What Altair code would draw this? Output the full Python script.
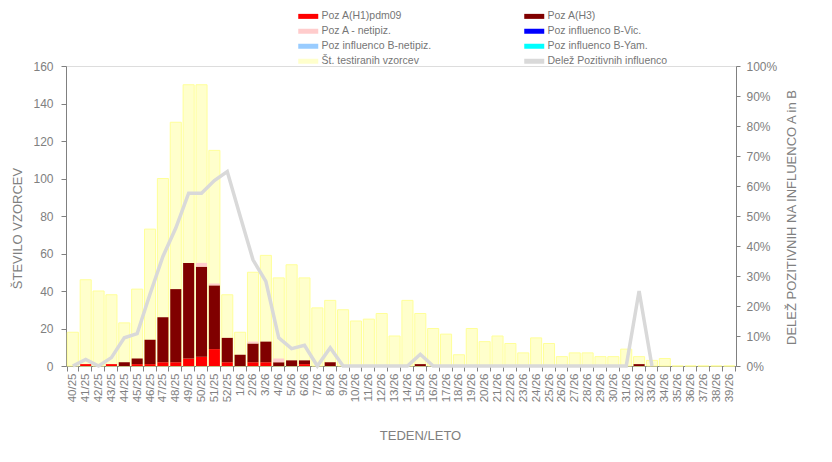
import altair as alt
import pandas as pd

weeks = ["40/25", "41/25", "42/25", "43/25", "44/25", "45/25", "46/25", "47/25", "48/25",
         "49/25", "50/25", "51/25", "52/25", "1/26", "2/26", "3/26", "4/26", "5/26", "6/26",
         "7/26", "8/26", "9/26", "10/26", "11/26", "12/26", "13/26", "14/26", "15/26", "16/26",
         "17/26", "18/26", "19/26", "20/26", "21/26", "22/26", "23/26", "24/26", "25/26",
         "26/26", "27/26", "28/26", "29/26", "30/26", "31/26", "32/26", "33/26", "34/26",
         "35/26", "36/26", "37/26", "38/26", "39/26"]

tested = [18, 46, 40, 38, 23, 41, 73, 100, 130, 150, 150, 115, 38, 18, 50, 59, 47, 54, 47,
          31, 35, 30, 24, 25, 28, 16, 35, 28, 20, 17, 6, 20, 13, 16, 12, 7, 15, 12,
          5, 7, 7, 5, 5, 9, 5, 3, 4, 0, 0, 0, 0, 0]

pos_h1 = [0, 1, 0, 1, 0, 1, 1, 2, 2, 4, 5, 9, 2, 0, 2, 2, 0, 0, 1,
          0, 0, 0, 0, 0, 0, 0, 0, 0, 0, 0, 0, 0, 0, 0, 0, 0, 0, 0,
          0, 0, 0, 0, 0, 0, 0, 0, 0, 0, 0, 0, 0, 0]

pos_h3 = [0, 0, 0, 0, 2, 3, 13, 24, 39, 51, 48, 34, 13, 6, 10, 11, 2, 3, 2,
          0, 2, 0, 0, 0, 0, 0, 0, 1, 0, 0, 0, 0, 0, 0, 0, 0, 0, 0,
          0, 0, 0, 0, 0, 0, 1, 0, 0, 0, 0, 0, 0, 0]

pos_a_netipiz = [0, 0, 0, 0, 0, 0, 0, 0, 0, 0, 2, 1, 0, 0, 1, 0, 2, 0, 0,
                 0, 0, 0, 0, 0, 0, 0, 0, 0, 0, 0, 0, 0, 0, 0, 0, 0, 0, 0,
                 0, 0, 0, 0, 0, 0, 0, 0, 0, 0, 0, 0, 0, 0]

pos_b_vic = [0, 0, 0, 0, 0, 0, 0, 0, 0, 0, 0, 0, 0, 0, 0, 0, 0, 0, 0,
             0, 0, 0, 0, 0, 0, 0, 0, 0, 0, 0, 0, 0, 0, 0, 0, 0, 0, 0,
             0, 0, 0, 0, 0, 0, 0, 0, 0, 0, 0, 0, 0, 0]

pos_b_netipiz = [0, 0, 0, 0, 0, 0, 0, 0, 0, 0, 0, 0, 0, 0, 0, 0, 0, 0, 0,
                 0, 0, 0, 0, 0, 0, 0, 0, 0, 0, 0, 0, 0, 0, 0, 0, 0, 0, 0,
                 0, 0, 0, 0, 0, 0, 0, 0, 0, 0, 0, 0, 0, 0]

pos_b_yam = [0, 0, 0, 0, 0, 0, 0, 0, 0, 0, 0, 0, 0, 0, 0, 0, 0, 0, 0,
             0, 0, 0, 0, 0, 0, 0, 0, 0, 0, 0, 0, 0, 0, 0, 0, 0, 0, 0,
             0, 0, 0, 0, 0, 0, 0, 0, 0, 0, 0, 0, 0, 0]

# share of positives in %, weeks 40/25 .. 33/26 (no value afterwards)
share_pct = [0, 2.2, 0, 2.8, 9.4, 10.8, 24, 36.5, 46, 57.6, 57.6, 61.8, 64.8, 50, 35.4,
             28.2, 9.4, 5.8, 6.9, 0, 6.1, 0, 0, 0, 0, 0, 0, 3.9, 0, 0, 0, 0, 0, 0, 0,
             0, 0, 0, 0, 0, 0, 0, 0, 0, 25, 0]

lab_h1 = "Poz A(H1)pdm09"
lab_h3 = "Poz A(H3)"
lab_an = "Poz A - netipiz."
lab_bv = "Poz influenco B-Vic."
lab_bn = "Poz influenco B-netipiz."
lab_by = "Poz influenco B-Yam."
lab_t = "Št. testiranih vzorcev"
lab_s = "Delež Pozitivnih influenco"

# legend is filled column by column: left column first, then right column
legend_order = [lab_h1, lab_an, lab_bn, lab_t, lab_h3, lab_bv, lab_by, lab_s]
legend_colors = ["#FF0000", "#FFCCCC", "#99CCFF", "#FFFFCC", "#800000", "#0000FF", "#00FFFF", "#D9D9D9"]

# ---- tables ----
pos_series = [(lab_h1, pos_h1), (lab_h3, pos_h3), (lab_an, pos_a_netipiz),
              (lab_bv, pos_b_vic), (lab_bn, pos_b_netipiz), (lab_by, pos_b_yam)]
rows = []
for k, (lab, ser) in enumerate(pos_series):
    for w, v in zip(weeks, ser):
        rows.append({"week": w, "series": lab, "ord": k, "value": v})
df_pos = pd.DataFrame(rows)
df_tested = pd.DataFrame({"week": weeks, "tested": tested, "series": lab_t})
df_share = pd.DataFrame({"week": weeks[:len(share_pct)],
                         "share": [p / 100 for p in share_pct],
                         "series": lab_s})

GREY = "#808080"
FONT = "Liberation Sans"

x_enc = alt.X("week:N", sort=weeks,
              scale=alt.Scale(paddingInner=0.14, paddingOuter=0.1),
              axis=alt.Axis(title="TEDEN/LETO", labelAngle=270, labelAlign="right",
                            labelBaseline="middle", labelFontSize=11.5, labelPadding=2,
                            labelColor=GREY, tickSize=5, tickBand="extent",
                            tickColor=GREY, domainColor=GREY, titleColor=GREY,
                            titleFontSize=13, titleFontWeight="normal",
                            titleX=354, titleY=69, titleBaseline="middle",
                            titleAlign="center", labelOverlap=False))

y_left_axis = alt.Axis(title="ŠTEVILO VZORCEV", values=[0, 20, 40, 60, 80, 100, 120, 140, 160],
                       grid=False, tickSize=5, labelPadding=8, labelFontSize=12,
                       labelColor=GREY, tickColor=GREY, domainColor=GREY,
                       titleColor=GREY, titleFontSize=13, titleFontWeight="normal",
                       titleX=-49, titleY=162, titleAngle=270, titleAlign="center",
                       titleBaseline="middle")
y_left_scale = alt.Scale(domain=[0, 160], nice=False)

color_enc = alt.Color("series:N",
                      scale=alt.Scale(domain=legend_order, range=legend_colors),
                      legend=alt.Legend(title=None, orient="none", legendX=237, legendY=-55,
                                        columns=2, columnPadding=92, rowPadding=4,
                                        symbolType="M-2,-0.5H2V0.5H-2Z", symbolSize=100,
                                        symbolStrokeWidth=0, labelFontSize=10.5,
                                        labelColor="#767676", labelFont=FONT, labelOffset=8,
                                        labelLimit=300, padding=0))

bars_tested = alt.Chart(df_tested).mark_bar(stroke="#FFFF99", strokeWidth=1).encode(
    x=x_enc,
    y=alt.Y("tested:Q", scale=y_left_scale, axis=y_left_axis),
    color=color_enc,
)

bars_pos = alt.Chart(df_pos).mark_bar().encode(
    x=x_enc,
    y=alt.Y("value:Q", stack="zero", scale=y_left_scale, axis=y_left_axis),
    color=color_enc,
    order=alt.Order("ord:Q"),
)

line = alt.Chart(df_share).mark_line(strokeWidth=3.5).encode(
    x=x_enc,
    y=alt.Y("share:Q", scale=alt.Scale(domain=[0, 1], nice=False),
            axis=alt.Axis(orient="right", format="%",
                          values=[0, 0.1, 0.2, 0.3, 0.4, 0.5, 0.6, 0.7, 0.8, 0.9, 1.0],
                          grid=False, tickSize=4, labelPadding=6, labelFontSize=12,
                          labelColor=GREY, tickColor=GREY, domainColor=GREY,
                          title="DELEŽ POZITIVNIH NA INFLUENCO A in B",
                          titleColor=GREY, titleFontSize=13, titleFontWeight="normal",
                          titleX=55, titleY=151, titleAngle=270, titleAlign="center",
                          titleBaseline="middle")),
    color=color_enc,
)

chart = alt.layer(alt.layer(bars_tested, bars_pos), line).resolve_scale(
    y="independent"
).properties(
    width=670, height=300,
    autosize=alt.AutoSizeParams(type="none"),
    padding={"left": 58, "top": 58, "right": 88, "bottom": 80},
).configure_view(stroke=None).configure(font=FONT)

chart.save("out.html", embed_options={"renderer": "svg", "actions": False})
